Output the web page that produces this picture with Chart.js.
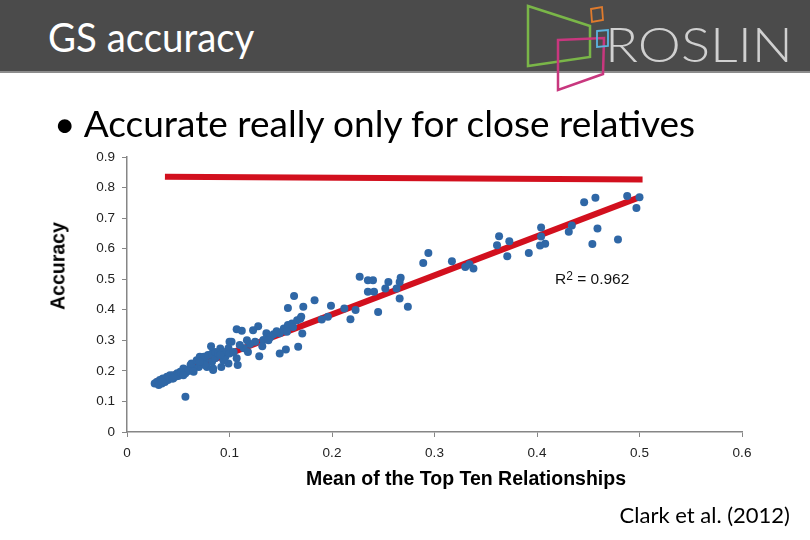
<!DOCTYPE html>
<html>
<head>
<meta charset="utf-8">
<script src="https://cdn.jsdelivr.net/npm/chart.js@4/dist/chart.umd.min.js"></script>
<style>
  html, body { margin: 0; padding: 0; background: #fff; }
  body { width: 810px; height: 540px; position: relative; overflow: hidden; font-family: Lato, "Open Sans", sans-serif; }
  #header { position: absolute; left: 0; top: 0; width: 810px; height: 71px; background: #4b4b4b; border-bottom: 2px solid #8c8c8c; }
  #title { position: absolute; left: 48px; top: 14px; color: #fff; font-size: 40px; line-height: 46px; font-weight: 400; transform: scaleX(0.96); transform-origin: left center; }
  #logo { position: absolute; left: 0; top: 0; }
  #bullet { position: absolute; left: 54px; top: 100px; font-size: 37px; line-height: 46px; color: #000; }
  #r2 { position: absolute; left: 555px; top: 269px; font-family: "Liberation Sans", Arial, sans-serif; font-size: 15.5px; color: #111; }
  #cite { position: absolute; right: 20px; top: 501px; font-size: 22px; color: #000; }
  #ytitle { position: absolute; left: 58px; top: 266px; transform: translate(-50%, -50%) rotate(-90deg); font-family: "Liberation Sans", Arial, sans-serif; font-weight: bold; font-size: 19.5px; white-space: nowrap; }
  #xtitle { position: absolute; left: 466px; top: 478px; transform: translate(-50%, -50%); font-family: "Liberation Sans", Arial, sans-serif; font-weight: bold; font-size: 19.5px; white-space: nowrap; }
  #wrap { position: absolute; left: 0; top: 0; width: 810px; height: 540px; }
</style>
</head>
<body>
<div id="wrap"><canvas id="gsChart"></canvas></div>
<div id="header">
  <div id="title">GS accuracy</div>
</div>
<svg id="logo" width="810" height="100">
  <polygon points="528,6 590,26 590,57 528,66" fill="none" stroke="#7ab648" stroke-width="2.5"/>
  <polygon points="558,40 604,38 603,74 558,90" fill="none" stroke="#c8377e" stroke-width="2.5"/>
  <polygon points="591,9 602,7 603,20 592,22" fill="none" stroke="#e07b2d" stroke-width="1.8"/>
  <polygon points="597,31 608,30 608,46 597,47" fill="none" stroke="#5bb5e0" stroke-width="1.8"/>
  <text x="605" y="62" font-family="Lato, sans-serif" font-weight="300" font-size="47" fill="#d0d0d0" textLength="188" lengthAdjust="spacingAndGlyphs">ROSLIN</text>
</svg>
<div id="bullet">&bull; Accurate really only for close relatives</div>
<div id="r2">R<sup style="font-size:12px;vertical-align:4px">2</sup> = 0.962</div>
<div id="cite">Clark et al. (2012)</div>
<div id="ytitle">Accuracy</div>
<div id="xtitle">Mean of the Top Ten Relationships</div>

<script>
// mean of top ten relationships vs accuracy
const points = [
	[0.099,0.224],[0.092,0.213],[0.084,0.208],[0.078,0.213],[0.083,0.230],[0.086,0.241],
	[0.076,0.235],[0.073,0.224],[0.070,0.213],[0.065,0.208],[0.062,0.219],[0.058,0.203],
	[0.055,0.208],[0.052,0.197],[0.049,0.192],[0.045,0.186],[0.042,0.186],[0.039,0.181],
	[0.035,0.175],[0.032,0.170],[0.029,0.164],[0.027,0.159],[0.031,0.154],[0.034,0.159],
	[0.037,0.164],[0.040,0.170],[0.044,0.175],[0.047,0.181],[0.050,0.183],[0.053,0.192],
	[0.057,0.192],[0.060,0.200],[0.063,0.224],[0.068,0.235],[0.071,0.246],[0.075,0.246],
	[0.079,0.252],[0.083,0.257],[0.086,0.262],[0.089,0.257],[0.084,0.203],[0.076,0.219],
	[0.065,0.197],[0.055,0.186],[0.045,0.175],[0.035,0.164],[0.057,0.115],[0.071,0.230],
	[0.094,0.235],[0.096,0.246],[0.091,0.273],[0.082,0.281],[0.100,0.295],[0.099,0.274],
	[0.094,0.262],[0.091,0.252],[0.100,0.257],
	[0.163,0.445],[0.157,0.406],[0.172,0.410],[0.183,0.431],[0.199,0.413],[0.196,0.377],
	[0.190,0.368],[0.171,0.322],[0.167,0.279],[0.155,0.270],[0.149,0.257],[0.153,0.339],
	[0.157,0.350],[0.161,0.355],[0.166,0.366],[0.169,0.371],[0.170,0.377],[0.162,0.344],
	[0.156,0.328],[0.149,0.323],[0.128,0.346],[0.123,0.333],[0.107,0.336],[0.112,0.331],
	[0.136,0.323],[0.140,0.311],[0.133,0.301],[0.125,0.295],[0.120,0.288],[0.114,0.274],
	[0.132,0.281],[0.129,0.248],[0.102,0.295],[0.104,0.262],[0.107,0.241],[0.108,0.219],
	[0.110,0.285],[0.117,0.300],[0.143,0.320],[0.146,0.330],[0.118,0.262],[0.138,0.300],
	[0.294,0.586],[0.289,0.553],[0.227,0.508],[0.235,0.497],[0.240,0.497],[0.235,0.459],
	[0.241,0.459],[0.252,0.470],[0.255,0.491],[0.267,0.505],[0.266,0.491],[0.263,0.470],
	[0.266,0.437],[0.274,0.410],[0.245,0.393],[0.218,0.369],[0.223,0.399],[0.212,0.404],
	[0.317,0.559],[0.330,0.540],[0.334,0.549],[0.338,0.535],[0.363,0.641],[0.361,0.611],
	[0.373,0.624],[0.371,0.575],[0.392,0.586],
	[0.446,0.752],[0.457,0.767],[0.488,0.772],[0.500,0.768],[0.497,0.733],[0.459,0.666],
	[0.479,0.630],[0.454,0.615],[0.434,0.676],[0.431,0.655],[0.404,0.669],[0.404,0.640],
	[0.408,0.616],[0.403,0.610]
];

// fitted line and the flat reference line, end points
const trendLine = [[0.028,0.165],[0.499,0.767]];
const refLine = [[0.037,0.835],[0.503,0.826]];

const xMin = 0, xMax = 0.6, yMin = 0, yMax = 0.9, step = 0.1;

const toXY = function (arr) {
	return arr.map(function (p) {
		return { x: p[0], y: p[1] };
	});
};

const tickFmt = function (v) {
	return String(Math.round(v * 10) / 10);
};

const axisColor = "#868686";
const tickFont = { family: "'Liberation Sans', Arial, sans-serif", size: 13.5 };

var ctx = document.getElementById("gsChart").getContext("2d");
var gsChart = new Chart(ctx, {
	type: "scatter",
	data: {
		datasets: [
			{
				label: "accuracy",
				data: toXY(points),
				backgroundColor: "#2f67a6",
				borderColor: "#2f67a6",
				pointRadius: 4,
				borderWidth: 0,
				order: 0,
			},
			{
				type: "line",
				label: "trend",
				data: toXY(trendLine),
				borderColor: "#d2101e",
				borderWidth: 6,
				pointRadius: 0,
				fill: false,
				order: 1,
			},
			{
				type: "line",
				label: "reference",
				data: toXY(refLine),
				borderColor: "#d2101e",
				borderWidth: 6,
				pointRadius: 0,
				fill: false,
				order: 1,
			},
		],
	},
	options: {
		responsive: true,
		maintainAspectRatio: false,
		animation: false,
		layout: { padding: { left: 44, right: 68, top: 157, bottom: 48 } },
		plugins: {
			legend: { display: false },
			tooltip: { enabled: false },
		},
		scales: {
			x: {
				type: "linear",
				min: xMin,
				max: xMax,
				afterFit: function (s) { s.height = 60; },
				ticks: { stepSize: step, callback: tickFmt, color: "#222", font: tickFont, padding: 8, maxRotation: 0 },
				grid: { drawOnChartArea: false, drawTicks: true, tickLength: 5, color: axisColor },
				border: { color: axisColor, width: 1.5 },
			},
			y: {
				type: "linear",
				min: yMin,
				max: yMax,
				afterFit: function (s) { s.width = 83; },
				ticks: { stepSize: step, callback: tickFmt, color: "#222", font: tickFont, padding: 7 },
				grid: { drawOnChartArea: false, drawTicks: true, tickLength: 5, color: axisColor },
				border: { color: axisColor, width: 1.5 },
			},
		},
	},
});
</script>
</body>
</html>
